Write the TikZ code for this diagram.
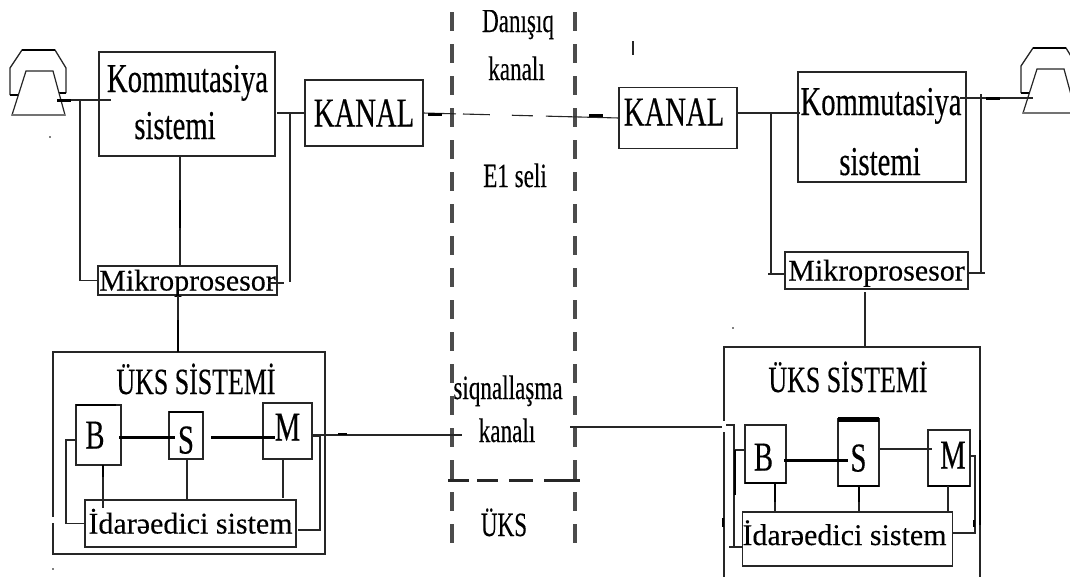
\documentclass[tikz,border=0pt]{standalone}
\usepackage{fontspec}
\usepackage{tikz}
\usetikzlibrary{positioning, calc}
\setmainfont[FakeBold=0.25]{Liberation Serif}
\newfontfamily\narrowserif[FakeStretch=0.7, FakeBold=0.35]{Liberation Serif}
\newfontfamily\slimserif[FakeStretch=0.68, FakeBold=0.25]{Liberation Serif}

\tikzset{
	box/.style={draw=black!85, line width=1.1pt, inner sep=0pt, outer sep=0pt, text depth=0pt},
	largetext/.style={font=\narrowserif\fontsize{41}{44}\selectfont, text height=27pt},
	wordtext/.style={font=\fontsize{30}{32}\selectfont, text height=20pt},
	midtext/.style={font=\slimserif\fontsize{34}{36}\selectfont, anchor=base, inner sep=0pt},
	headtext/.style={font=\narrowserif\fontsize{37}{40}\selectfont, anchor=base, inner sep=0pt},
	kommtext/.style={font=\narrowserif\fontsize{41}{44}\selectfont, anchor=base, inner sep=0pt},
	wire/.style={draw=black!85, line width=1.1pt},
	heavy/.style={draw=black, line width=3pt},
	border/.style={draw=black!70, line width=3.4pt, dash pattern=on 19pt off 13pt},
	phone/.pic={
		\draw[line width=1.3pt, black!85] (0,45) -- (0,18) -- (12,0) -- (45,0) -- (56,18) -- (56,43);
		\draw[line width=2.6pt] (12,0) -- (45,0) (0,45) -- (8,45) (47,43) -- (56,43);
		\draw[line width=1.2pt, black!85, fill=white] (2,65) -- (16,21) -- (43,21) -- (55,65) -- cycle;
		\draw[line width=2pt, black!55] (2,65) -- (55,65);
	}
}

\begin{document}
\begin{tikzpicture}[x=1pt, y=-1pt]
	\useasboundingbox (0,0) rectangle (1070,576);
	
	% Phones
	\pic at (10,50) {phone};
	\pic at (1021,48) {phone};
	\coordinate (phoneL) at (57,100);
	\coordinate (phoneR) at (1033,98);
	
	% Left station
	\node[box, minimum width=176pt, minimum height=104pt] (kommL) at (187,104) {};
	\node[kommtext] (kommLa) at (187.5,92) {Kommutasiya};
	\node[kommtext] (kommLb) at (175,139) {sistemi};
	\node[box, largetext, minimum width=118pt, minimum height=66pt] (kanalL) at (364,113) {KANAL};
	\node[box, wordtext, minimum width=179pt, minimum height=29pt] (mikroL) at (187.5,280.5) {Mikroprosesor};
	\node[box, minimum width=272pt, minimum height=202pt] (uksL) at (189,453) {};
	\node[headtext] (uksLt) at (196,394) {ÜKS SİSTEMİ};
	\node[box, largetext, minimum width=45pt, minimum height=60pt] (blokBL) at (98.5,435) {B\kern7pt};
	\node[box, largetext, text height=36pt, minimum width=34pt, minimum height=47pt] (blokSL) at (186,435.5) {S};
	\node[box, largetext, text depth=8pt, minimum width=49pt, minimum height=56pt] (blokML) at (287.5,431) {M};
	\node[box, wordtext, minimum width=211pt, minimum height=47pt] (idareL) at (190.5,523.5) {İdarəedici sistem};
	
	\draw[wire] (phoneL) -- (111,100);
	\draw[heavy] (phoneL) -- (71,100);
	\coordinate (tapA) at (80,100);
	\draw[wire] (tapA) |- (mikroL.west);
	\draw[wire] (277,113) -- (kanalL.west);
	\coordinate (tapB) at (290,113);
	\coordinate (tapBend) at (290,282);
	\draw[wire] (tapB) -- (tapBend);
	\coordinate (stubL) at (284,283);
	\draw[wire] (mikroL.east |- stubL) ++(-9,0) -- (stubL);
	\draw[wire] (180,156) -- (180,266);
	\draw[line width=2.4pt] (180,200) -- (180,228);
	\draw[wire] (178,296) -- (178,352);
	\draw[line width=2.4pt] (178,320) -- (178,352);
	\draw[line width=2.2pt, black!85] (kommL.north west) -- (kommL.north east);
	\draw[line width=2.4pt, black!85] (kanalL.south west) -- (kanalL.south east);
	\draw[line width=2.4pt] (blokBL.north west) -- ++(40,0);
	\draw[line width=2.4pt] (blokSL.north west) -- (blokSL.north east);
	\draw[heavy] (119,437) -- (175,437);
	\draw[heavy] (211,437) -- (275,437);
	\draw[wire] (blokBL.west) ++(0,5) -- (66,440) |- (idareL.west);
	\draw[wire] (103,465) -- (103,508);
	\draw[line width=2.4pt] (103,465) -- (103,477);
	\draw[wire] (187,459) -- (187,500);
	\draw[wire] (283,459) -- (283,498);
	\draw[wire] (blokML.east |- 0,436) -- (320,436) |- (298,530);
	\draw[white, line width=2pt] (53,517) -- (53,523);
	
	% Right station
	\node[box, minimum width=168pt, minimum height=110pt] (kommR) at (882,127) {};
	\node[kommtext] (kommRa) at (881,115) {Kommutasiya};
	\node[kommtext] (kommRb) at (880,175) {sistemi};
	\node[box, largetext, text depth=12pt, minimum width=118pt, minimum height=61pt] (kanalR) at (678,118) {KANAL\kern8pt};
	\node[box, wordtext, minimum width=183pt, minimum height=37pt] (mikroR) at (876.5,270.5) {Mikroprosesor};
	\node[box, minimum width=256pt, minimum height=253pt] (uksR) at (852,473.5) {};
	\node[headtext] (uksRt) at (848,392) {ÜKS SİSTEMİ};
	\node[box, largetext, text height=33pt, minimum width=41pt, minimum height=58pt] (blokBR) at (765.5,454) {B\kern4pt};
	\node[box, largetext, text height=38pt, minimum width=41pt, minimum height=67pt] (blokSR) at (858.5,452.5) {S};
	\node[box, largetext, text depth=6pt, minimum width=42pt, minimum height=56pt] (blokMR) at (949,458) {\kern8pt M};
	\node[box, wordtext, text depth=8pt, minimum width=207pt, minimum height=54pt] (idareR) at (847.5,539) {İdarəedici sistem\kern6pt};
	
	\draw[wire] (kanalR.east |- 0,113) -- (800,113);
	\coordinate (tapC) at (771,113);
	\coordinate (tapCend) at (768,274);
	\draw[wire] (tapC) -- (771,274);
	\draw[wire] (tapCend) -- (mikroR.west |- tapCend);
	\coordinate (tapD) at (981,94);
	\coordinate (stubR) at (985,273);
	\draw[wire] (tapD) -- (981,273);
	\draw[wire] (mikroR.east |- stubR) -- (stubR);
	\draw[wire] (960,98) -- (phoneR);
	\draw[heavy] (986,98) -- (1000,98);
	\draw[wire] (865,292) -- (865,347);
	\draw[line width=5pt] (blokSR.north west) -- (blokSR.north east);
	\draw[line width=2.6pt] (blokSR.south west) -- (blokSR.south east);
	\draw[line width=2.4pt] (blokBR.south west) -- (blokBR.south east);
	\draw[line width=2.4pt] (blokMR.south west) -- (blokMR.south east);
	\draw[white, line width=3pt] (724,421) -- (724,432);
	\draw[wire] (726,425) -- (734,425) |- (idareR.west |- 0,547);
	\draw[wire] (729,547) -- (734,547);
	\draw[wire] (734,450) -- (blokBR.west |- 0,450);
	\draw[line width=2.4pt] (735,450) -- (735,495);
	\draw[heavy] (784,460) -- (848,460);
	\draw[wire] (blokSR.east |- 0,449) -- (932,449);
	\draw[wire] (775,483) -- (775,512);
	\draw[line width=2.6pt] (775,483) -- (775,502);
	\draw[wire] (859,486) -- (859,512);
	\draw[line width=2.6pt] (859,486) -- (859,502);
	\draw[wire] (948,486) -- (948,512);
	\draw[wire] (blokMR.east |- 0,456) -- (975,456) |- (idareR.east |- 0,533);
	\draw[line width=2.4pt] (974,520) -- (974,527);
	\draw[line width=2.6pt] (980,440) -- (980,525);
	\draw[line width=2pt] (723,518) -- (723,527);
	
	% Middle part
	\draw[border] (452,12) -- (452,547);
	\draw[border] (575,12) -- (575,547);
	\begin{scope}
		\clip (470,10) rectangle (570,45);
		\node[midtext] (danL) at (518,32) {Danışıq};
	\end{scope}
	\node[midtext] (danLb) at (516.5,80) {kanalı};
	\node[midtext] (seli) at (515,187) {E1 seli};
	\node[midtext] (siqn) at (508,399) {siqnallaşma};
	\node[midtext] (siqnb) at (507,442) {kanalı};
	\node[midtext] (uksM) at (504,536) {ÜKS};
	\draw[wire, dash pattern=on 33pt off 7pt on 27pt off 22pt on 21pt off 13pt on 90pt] (kanalL.east) -- (kanalR.west);
	\draw[heavy] (428,114) -- (442,114);
	\draw[heavy] (589,115.5) -- (603,115.5);
	\draw[line width=3pt, black!85, dash pattern=on 21pt off 8pt on 21pt off 11pt on 24pt off 11pt on 36pt] (448,480) -- (580,480);
	\coordinate (sigA) at (462,435);
	\coordinate (sigB) at (570,427);
	\coordinate (sigC) at (722,427);
	\draw[wire] (blokML.east |- sigA) -- (sigA);
	\draw[line width=2pt] (338,434) -- (347,434);
	\draw[wire] (sigB) -- (sigC);
	
	% Stray marks
	\draw[wire] (633,41) -- (633,55);
	\fill (50,137) circle (0.8pt) (53,569) circle (0.8pt) (733,328) circle (0.8pt);
\end{tikzpicture}
\end{document}
